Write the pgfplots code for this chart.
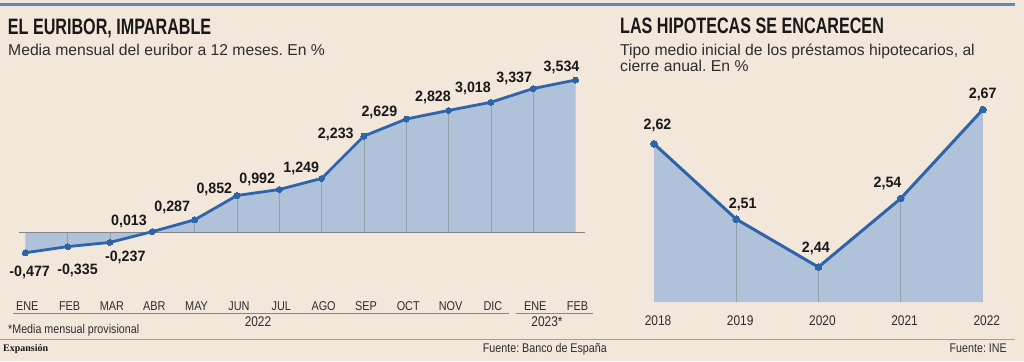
\documentclass[border=0pt]{standalone}
\usepackage{pgfplots}
\pgfplotsset{compat=1.18}
\usepackage{fontspec}
\setmainfont{Liberation Sans}
\newfontfamily\titlefont{Liberation Sans}[FakeStretch=0.724]
\newfontfamily\condfont{Liberation Sans}[FakeStretch=0.85]
\newfontfamily\valfont{Liberation Sans}[FakeStretch=0.95]
\newfontfamily\serifb{Liberation Serif}
\definecolor{bg}{RGB}{243,231,220}
\definecolor{fillb}{RGB}{175,194,218}
\definecolor{lineb}{RGB}{45,100,170}
\definecolor{topb}{RGB}{95,137,190}
\definecolor{grayl}{RGB}{165,158,152}
\definecolor{uline}{RGB}{135,135,135}
\definecolor{dropc}{RGB}{150,160,172}
\definecolor{txt}{RGB}{25,25,25}
\definecolor{subt}{RGB}{45,45,45}
\tikzset{vlab/.style={anchor=base, inner sep=0pt, text=txt, font=\valfont\bfseries\fontsize{15bp}{16bp}\selectfont}}
\frenchspacing
\begin{document}
\begin{tikzpicture}[x=1bp,y=1bp]
\fill[bg] (0,0) rectangle (1024,361);
\path[use as bounding box] (0,0) rectangle (1024,361);
\draw[topb, line width=3.3bp] (0,356.7) -- (1015,356.7);
\draw[grayl, line width=1bp] (0,22) -- (1015,22);
% titles
\node[anchor=base west, inner sep=0pt, text=txt, font=\titlefont\bfseries\fontsize{22.3bp}{24bp}\selectfont] at (7.7,326.7) {EL EURIBOR, IMPARABLE};
\node[anchor=base west, inner sep=0pt, text=subt, font=\fontsize{15.7bp}{17bp}\selectfont] at (8,306) {Media mensual del euribor a 12 meses. En \%};
\node[anchor=base west, inner sep=0pt, text=txt, font=\titlefont\bfseries\fontsize{22.3bp}{24bp}\selectfont] at (620,327.7) {LAS HIPOTECAS SE ENCARECEN};
\node[anchor=base west, inner sep=0pt, text=subt, font=\fontsize{15.7bp}{17bp}\selectfont] at (620,306) {Tipo medio inicial de los préstamos hipotecarios, al};
\node[anchor=base west, inner sep=0pt, text=subt, font=\fontsize{15.7bp}{17bp}\selectfont] at (620,289.3) {cierre anual. En \%};
% year groups
\draw[uline, line width=0.9bp] (13.4,48) -- (509,48);
\draw[uline, line width=0.9bp] (516,48) -- (593,48);
\node[anchor=base, inner sep=0pt, text=subt, font=\condfont\fontsize{14bp}{15bp}\selectfont] at (258,34.3) {2022};
\node[anchor=base, inner sep=0pt, text=subt, font=\condfont\fontsize{14bp}{15bp}\selectfont] at (547,34.3) {2023*};
\node[anchor=base west, inner sep=0pt, text=subt, font=\condfont\fontsize{12.6bp}{13bp}\selectfont] at (8,28) {*Media mensual provisional};
\node[anchor=base west, inner sep=0pt, text=txt, font=\serifb\bfseries\fontsize{10bp}{11bp}\selectfont] at (3,10) {Expansión};
\node[anchor=base east, inner sep=0pt, text=subt, font=\condfont\fontsize{12.6bp}{13bp}\selectfont] at (607,9) {Fuente: Banco de España};
\node[anchor=base east, inner sep=0pt, text=subt, font=\condfont\fontsize{12.6bp}{13bp}\selectfont] at (1007,9) {Fuente: INE};
% left chart
\begin{axis}[at={(4.13bp,63.7bp)}, anchor=south west, scale only axis,
  width=592.6bp, height=228.7bp,
  xmin=-0.5, xmax=13.5, ymin=-1.512, ymax=3.8,
  axis line style={draw=none}, tick style={draw=none},
  ytick=\empty, xtick={0,...,13},
  xticklabels={ENE,FEB,MAR,ABR,MAY,JUN,JUL,AGO,SEP,OCT,NOV,DIC,ENE,FEB},
  xticklabel style={anchor=base, yshift=-13bp, xshift=2bp, inner sep=0pt, text=subt, font=\condfont\fontsize{12.8bp}{13bp}\selectfont},
  clip=false]
\addplot[fill=fillb, draw=none] coordinates {(0,0) (0,-0.477) (1,-0.335) (2,-0.237) (3,0.013) (4,0.287) (5,0.852) (6,0.992) (7,1.249) (8,2.233) (9,2.629) (10,2.828) (11,3.018) (12,3.337) (13,3.534) (13,0)} -- cycle;
\addplot[dropc, line width=0.7bp] coordinates {(1,0) (1,-0.335)};
\addplot[dropc, line width=0.7bp] coordinates {(2,0) (2,-0.237)};
\addplot[dropc, line width=0.7bp] coordinates {(4,0) (4,0.287)};
\addplot[dropc, line width=0.7bp] coordinates {(5,0) (5,0.852)};
\addplot[dropc, line width=0.7bp] coordinates {(6,0) (6,0.992)};
\addplot[dropc, line width=0.7bp] coordinates {(7,0) (7,1.249)};
\addplot[dropc, line width=0.7bp] coordinates {(8,0) (8,2.233)};
\addplot[dropc, line width=0.7bp] coordinates {(9,0) (9,2.629)};
\addplot[dropc, line width=0.7bp] coordinates {(10,0) (10,2.828)};
\addplot[dropc, line width=0.7bp] coordinates {(11,0) (11,3.018)};
\addplot[dropc, line width=0.7bp] coordinates {(12,0) (12,3.337)};
\addplot[uline, line width=1bp] coordinates {(-0.149,0) (13.23,0)};
\addplot[lineb, line width=2.8bp, mark=*, mark size=3bp, mark options={fill=lineb, draw=lineb, line width=0pt}] coordinates {(0,-0.477) (1,-0.335) (2,-0.237) (3,0.013) (4,0.287) (5,0.852) (6,0.992) (7,1.249) (8,2.233) (9,2.629) (10,2.828) (11,3.018) (12,3.337) (13,3.534)};
\node[vlab, xshift=4.4bp, yshift=-23.5bp] at (axis cs:0,-0.477) {-0,477};
\node[vlab, xshift=9.9bp, yshift=-27.6bp] at (axis cs:1,-0.335) {-0,335};
\node[vlab, xshift=15.3bp, yshift=-19.2bp] at (axis cs:2,-0.237) {-0,237};
\node[vlab, xshift=-23.3bp, yshift=6.2bp] at (axis cs:3,0.013) {0,013};
\node[vlab, xshift=-22.4bp, yshift=8.2bp] at (axis cs:4,0.287) {0,287};
\node[vlab, xshift=-22.6bp, yshift=2.4bp] at (axis cs:5,0.852) {0,852};
\node[vlab, xshift=-22bp, yshift=5.6bp] at (axis cs:6,0.992) {0,992};
\node[vlab, xshift=-20.4bp, yshift=6.2bp] at (axis cs:7,1.249) {1,249};
\node[vlab, xshift=-28.1bp, yshift=-2.9bp] at (axis cs:8,2.233) {2,233};
\node[vlab, xshift=-26.9bp, yshift=2.8bp] at (axis cs:9,2.629) {2,629};
\node[vlab, xshift=-15.6bp, yshift=8.5bp] at (axis cs:10,2.828) {2,828};
\node[vlab, xshift=-17.9bp, yshift=9.3bp] at (axis cs:11,3.018) {3,018};
\node[vlab, xshift=-19bp, yshift=5.6bp] at (axis cs:12,3.337) {3,337};
\node[vlab, xshift=-14bp, yshift=8.3bp] at (axis cs:13,3.534) {3,534};
\end{axis}
% right chart (years plotted at 0..4)
\begin{axis}[at={(654bp,59bp)}, anchor=south west, scale only axis,
  width=328.8bp, height=213bp,
  xmin=0, xmax=4, ymin=2.389, ymax=2.70,
  axis line style={draw=none}, tick style={draw=none},
  ytick=\empty, xtick={0,1,2,3,4},
  xticklabels={2018,2019,2020,2021,2022},
  xticklabel style={anchor=base, yshift=-23bp, xshift=4bp, inner sep=0pt, text=subt, font=\condfont\fontsize{14bp}{15bp}\selectfont},
  clip=false]
\addplot[fill=fillb, draw=none] coordinates {(0,2.389) (0,2.62) (1,2.51) (2,2.44) (3,2.54) (4,2.67) (4,2.389)} -- cycle;
\addplot[dropc, line width=0.7bp] coordinates {(1,2.389) (1,2.51)};
\addplot[dropc, line width=0.7bp] coordinates {(2,2.389) (2,2.44)};
\addplot[dropc, line width=0.7bp] coordinates {(3,2.389) (3,2.54)};
\addplot[lineb, line width=3bp, mark=*, mark size=3.4bp, mark options={fill=lineb, draw=lineb, line width=0pt}] coordinates {(0,2.62) (1,2.51) (2,2.44) (3,2.54) (4,2.67)};
\node[vlab, xshift=3.5bp, yshift=14.7bp] at (axis cs:0,2.62) {2,62};
\node[vlab, xshift=6.5bp, yshift=10.8bp] at (axis cs:1,2.51) {2,51};
\node[vlab, xshift=-2.6bp, yshift=14.3bp] at (axis cs:2,2.44) {2,44};
\node[vlab, xshift=-13.1bp, yshift=11.3bp] at (axis cs:3,2.54) {2,54};
\node[vlab, xshift=-0.1bp, yshift=11.1bp] at (axis cs:4,2.67) {2,67};
\end{axis}
\end{tikzpicture}
\end{document}
